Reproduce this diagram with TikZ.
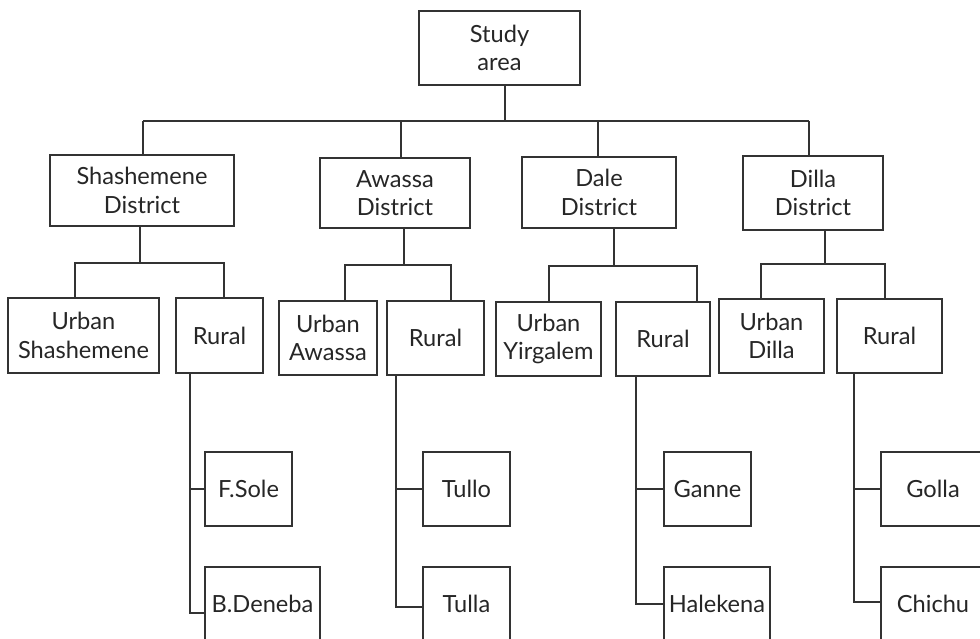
\documentclass[tikz,border=0pt]{standalone}
\usepackage{fontspec}
\setmainfont{Lato}
\begin{document}
\begin{tikzpicture}[x=0.025cm,y=-0.025cm,line width=0.9pt,draw=black!80,
  box/.style 2 args={draw,align=center,inner sep=0pt,text=black!85,
    minimum width=#1*0.025cm,minimum height=#2*0.025cm,
    font=\fontsize{16.8}{20.2}\selectfont}]
\useasboundingbox(0,0) rectangle (980,638);
\clip(0,0) rectangle (980,638);
\node[box={161}{74}] (study) at (499.5,48){Study\\area};
\node[box={184}{71}] (shash) at (142,190.5){Shashemene\\District};
\node[box={150}{70}] (awassa) at (395,193){Awassa\\District};
\node[box={154}{71}] (dale) at (599,192.5){Dale\\District};
\node[box={140}{74}] (dilla) at (813,193){Dilla\\District};
\node[box={151}{75}] (urbshash) at (83.5,335.5){Urban\\Shashemene};
\node[box={87}{75}] (rurshash) at (219.5,335.5){Rural};
\node[box={98}{74}] (urbawassa) at (328,338){Urban\\Awassa};
\node[box={97}{74}] (rurawassa) at (435.5,338){Rural};
\node[box={105}{74}] (urbdale) at (548.5,339){Urban\\Yirgalem};
\node[box={94}{74}] (rurdale) at (663,339){Rural};
\node[box={105}{74}] (urbdilla) at (771.5,336){Urban\\Dilla};
\node[box={105}{74}] (rurdilla) at (889.5,336){Rural};
\node[box={87}{74}] (fsole) at (248.5,489){F.Sole};
\node[box={115}{74}] (bdeneba) at (262.5,604){B.Deneba};
\node[box={87}{74}] (tullo) at (466.5,489){Tullo};
\node[box={87}{74}] (tulla) at (466.5,604){Tulla};
\node[box={87}{74}] (ganne) at (707.5,489){Ganne};
\node[box={106}{74}] (halekena) at (717,604){Halekena};
\node[box={104}{74}] (golla) at (933,489){Golla};
\node[box={104}{74}] (chichu) at (933,604){Chichu};
\coordinate (top) at (505,121);
\coordinate (b1) at (143,121);
\coordinate (b2) at (401,121);
\coordinate (b3) at (598,121);
\coordinate (b4) at (809,121);
\draw(study.south -| top)--(top);
\draw(b1)--(b4);
\draw(b1)--(shash.north -| b1);
\draw(b2)--(awassa.north -| b2);
\draw(b3)--(dale.north -| b3);
\draw(b4)--(dilla.north -| b4);
\coordinate (s0) at (140,263);
\coordinate (s1) at (75,263);
\coordinate (s2) at (224,263);
\draw(shash.south -| s0)--(s0);
\draw(urbshash.north -| s1)--(s1)--(s2)--(rurshash.north -| s2);
\coordinate (a0) at (404,265);
\coordinate (a1) at (345,265);
\coordinate (a2) at (451,265);
\draw(awassa.south -| a0)--(a0);
\draw(urbawassa.north -| a1)--(a1)--(a2)--(rurawassa.north -| a2);
\coordinate (d0) at (614,266);
\coordinate (d1) at (549,266);
\coordinate (d2) at (697,266);
\draw(dale.south -| d0)--(d0);
\draw(urbdale.north -| d1)--(d1)--(d2)--(rurdale.north -| d2);
\coordinate (i0) at (825,264);
\coordinate (i1) at (761,264);
\coordinate (i2) at (885,264);
\draw(dilla.south -| i0)--(i0);
\draw(urbdilla.north -| i1)--(i1)--(i2)--(rurdilla.north -| i2);
\coordinate (r1) at (190,613);
\draw(rurshash.south -| r1)--(r1)--(bdeneba.west |- r1);
\draw(fsole.west)--(fsole.west -| r1);
\coordinate (r2) at (396,607);
\draw(rurawassa.south -| r2)--(r2)--(tulla.west |- r2);
\draw(tullo.west)--(tullo.west -| r2);
\coordinate (r3) at (636,604);
\draw(rurdale.south -| r3)--(r3)--(halekena.west |- r3);
\draw(ganne.west)--(ganne.west -| r3);
\coordinate (r4) at (854,602);
\draw(rurdilla.south -| r4)--(r4)--(chichu.west |- r4);
\draw(golla.west)--(golla.west -| r4);
\end{tikzpicture}
\end{document}
